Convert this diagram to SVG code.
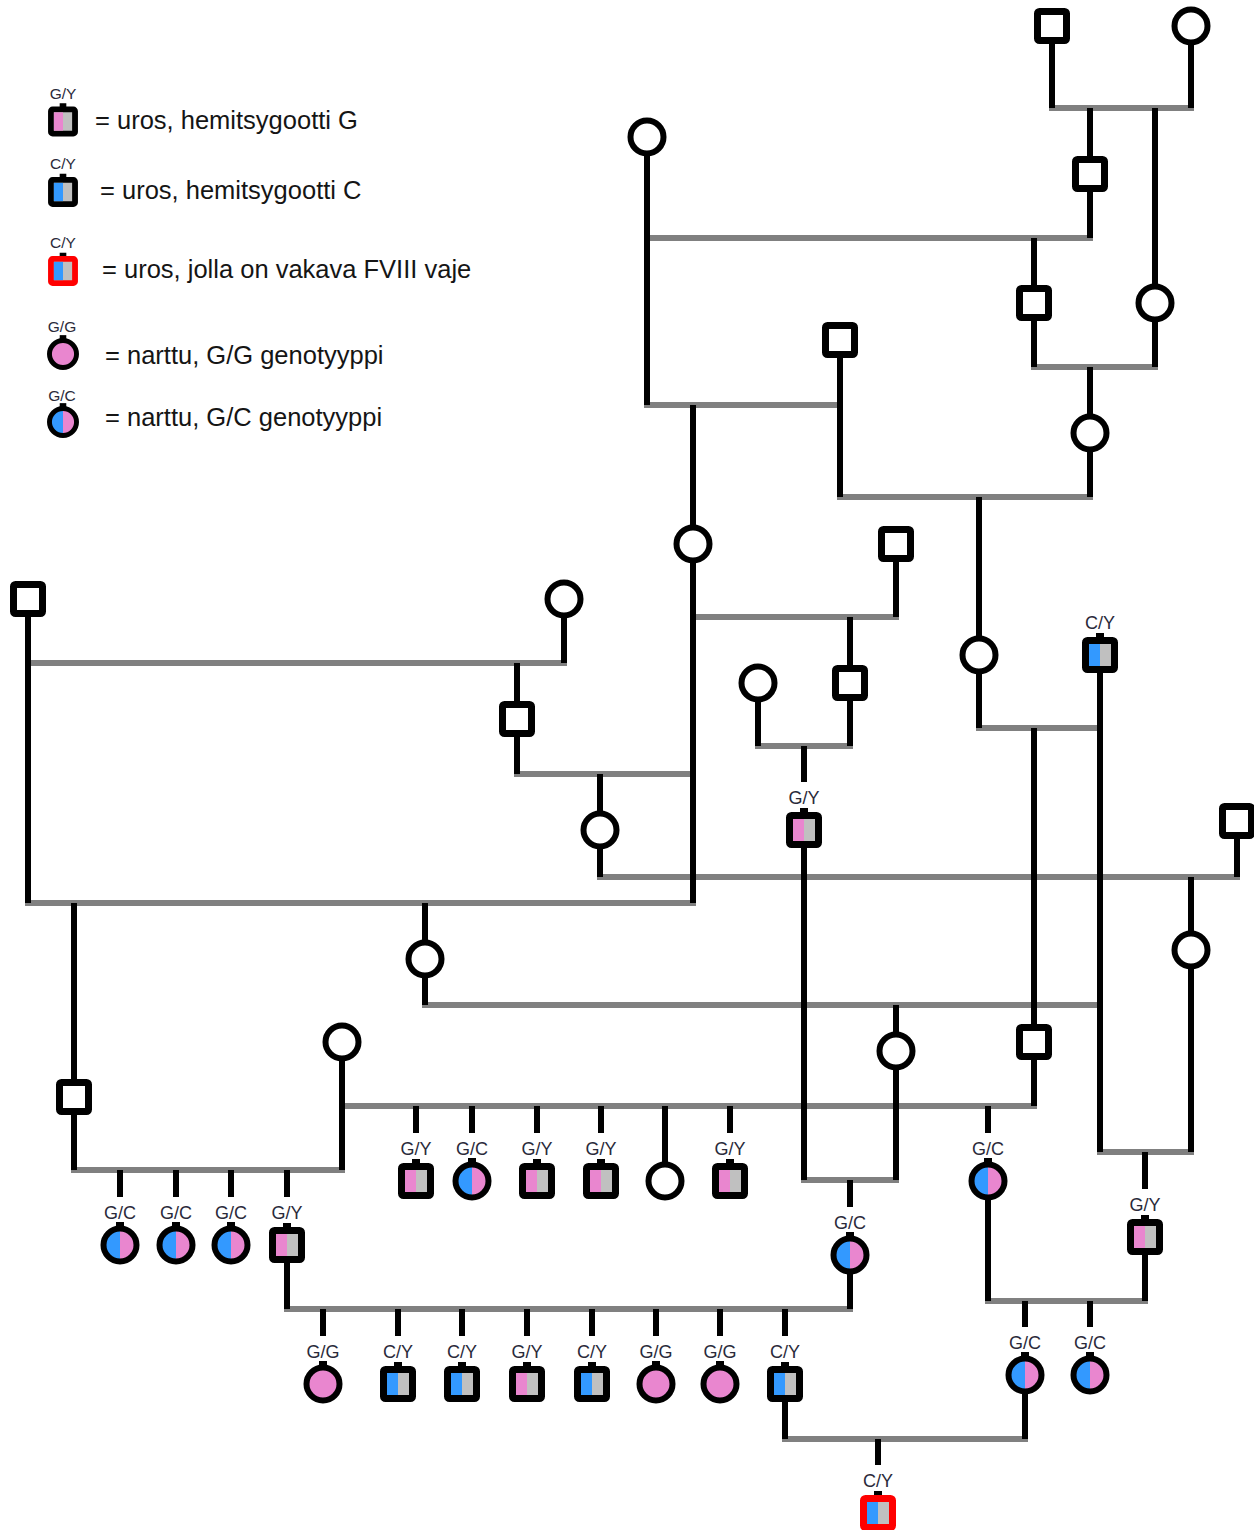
<svg xmlns="http://www.w3.org/2000/svg" width="1254" height="1530" viewBox="0 0 1254 1530">
<style>
.v{stroke:#000;stroke-width:6;fill:none}
.h{stroke:#808080;stroke-width:6;stroke-linecap:square;fill:none}
.lb{font-family:"Liberation Sans",Arial,sans-serif;font-size:18px;fill:#2a2a3a;text-anchor:middle}
.ls{font-family:"Liberation Sans",Arial,sans-serif;font-size:15.5px;fill:#2a2a3a;text-anchor:middle}
.lt{font-family:"Liberation Sans",Arial,sans-serif;font-size:25.5px;fill:#151515}
</style>
<defs>
<g id="M"><rect x="-14.5" y="-14.5" width="29" height="29" rx="2" fill="#fff" stroke="#000" stroke-width="7"/></g>
<g id="F"><circle r="16.5" fill="#fff" stroke="#000" stroke-width="6"/></g>
<g id="MG"><rect x="-4" y="-22" width="8" height="5" fill="#000"/><rect x="-14.5" y="-14.5" width="29" height="29" rx="2" fill="#c0c0c0" stroke="#000" stroke-width="7"/><rect x="-11" y="-11" width="11" height="22" fill="#e986cf"/></g>
<g id="MC"><rect x="-4" y="-22" width="8" height="5" fill="#000"/><rect x="-14.5" y="-14.5" width="29" height="29" rx="2" fill="#c0c0c0" stroke="#000" stroke-width="7"/><rect x="-11" y="-11" width="11" height="22" fill="#3399ff"/></g>
<g id="MA"><rect x="-4" y="-22" width="8" height="5" fill="#000"/><rect x="-14.5" y="-14.5" width="29" height="29" rx="2" fill="#c0c0c0" stroke="#ff0000" stroke-width="7"/><rect x="-11" y="-11" width="11" height="22" fill="#3399ff"/></g>
<g id="FGG"><rect x="-4" y="-23" width="8" height="5" fill="#000"/><circle r="16.5" fill="#e986cf" stroke="#000" stroke-width="6"/></g>
<g id="FGC"><rect x="-4" y="-23" width="8" height="5" fill="#000"/><path d="M0,-16.5 A16.5,16.5 0 0 0 0,16.5 Z" fill="#3399ff"/><path d="M0,-16.5 A16.5,16.5 0 0 1 0,16.5 Z" fill="#e986cf"/><circle r="16.5" fill="none" stroke="#000" stroke-width="6"/></g>
</defs>

<g id="legend">
<g id="leg1"><text class="ls" x="63" y="99">G/Y</text><use href="#MG" transform="translate(63,121.5) scale(0.83)"/><text class="lt" x="95" y="129">= uros, hemitsygootti G</text></g>
<g id="leg2"><text class="ls" x="63" y="169">C/Y</text><use href="#MC" transform="translate(63,192) scale(0.83)"/><text class="lt" x="100" y="199">= uros, hemitsygootti C</text></g>
<g id="leg3"><text class="ls" x="63" y="248">C/Y</text><use href="#MA" transform="translate(63,271) scale(0.83)"/><text class="lt" x="102" y="278">= uros, jolla on vakava FVIII vaje</text></g>
<g id="leg4"><text class="ls" x="62" y="332">G/G</text><use href="#FGG" transform="translate(63,354) scale(0.82)"/><text class="lt" x="105" y="364">= narttu, G/G genotyyppi</text></g>
<g id="leg5"><text class="ls" x="62" y="401">G/C</text><use href="#FGC" transform="translate(63,422) scale(0.82)"/><text class="lt" x="105" y="426">= narttu, G/C genotyyppi</text></g>
</g>

<g id="connectors">
<g class="h-lines">
<line class="h" x1="1052" y1="108" x2="1191" y2="108"/>
<line class="h" x1="647" y1="238" x2="1090" y2="238"/>
<line class="h" x1="1034" y1="367" x2="1155" y2="367"/>
<line class="h" x1="647" y1="405" x2="840" y2="405"/>
<line class="h" x1="840" y1="497" x2="1090" y2="497"/>
<line class="h" x1="693" y1="617" x2="896" y2="617"/>
<line class="h" x1="758" y1="746" x2="850" y2="746"/>
<line class="h" x1="979" y1="728" x2="1100" y2="728"/>
<line class="h" x1="28" y1="663" x2="564" y2="663"/>
<line class="h" x1="517" y1="774" x2="693" y2="774"/>
<line class="h" x1="600" y1="877" x2="1237" y2="877"/>
<line class="h" x1="28" y1="903" x2="693" y2="903"/>
<line class="h" x1="1100" y1="1152" x2="1191" y2="1152"/>
<line class="h" x1="425" y1="1005" x2="1100" y2="1005"/>
<line class="h" x1="804" y1="1180" x2="896" y2="1180"/>
<line class="h" x1="74" y1="1170" x2="342" y2="1170"/>
<line class="h" x1="342" y1="1106" x2="1034" y2="1106"/>
<line class="h" x1="988" y1="1301" x2="1145" y2="1301"/>
<line class="h" x1="287" y1="1309" x2="850" y2="1309"/>
<line class="h" x1="785" y1="1439" x2="1025" y2="1439"/>
</g>
<g class="v-lines">
<line class="v" x1="1052" y1="26" x2="1052" y2="108"/>
<line class="v" x1="1191" y1="26" x2="1191" y2="108"/>
<line class="v" x1="1090" y1="108" x2="1090" y2="238"/>
<line class="v" x1="1155" y1="108" x2="1155" y2="367"/>
<line class="v" x1="647" y1="137" x2="647" y2="405"/>
<line class="v" x1="1034" y1="238" x2="1034" y2="367"/>
<line class="v" x1="1090" y1="367" x2="1090" y2="497"/>
<line class="v" x1="840" y1="340" x2="840" y2="497"/>
<line class="v" x1="693" y1="405" x2="693" y2="903"/>
<line class="v" x1="979" y1="497" x2="979" y2="728"/>
<line class="v" x1="896" y1="544" x2="896" y2="617"/>
<line class="v" x1="850" y1="617" x2="850" y2="746"/>
<line class="v" x1="758" y1="683" x2="758" y2="746"/>
<line class="v" x1="804" y1="746" x2="804" y2="782"/>
<line class="v" x1="804" y1="830" x2="804" y2="1180"/>
<line class="v" x1="1100" y1="655" x2="1100" y2="1152"/>
<line class="v" x1="1034" y1="728" x2="1034" y2="1106"/>
<line class="v" x1="28" y1="599" x2="28" y2="903"/>
<line class="v" x1="564" y1="599" x2="564" y2="663"/>
<line class="v" x1="517" y1="663" x2="517" y2="774"/>
<line class="v" x1="600" y1="774" x2="600" y2="877"/>
<line class="v" x1="1237" y1="821" x2="1237" y2="877"/>
<line class="v" x1="1191" y1="877" x2="1191" y2="1152"/>
<line class="v" x1="1145" y1="1152" x2="1145" y2="1189"/>
<line class="v" x1="1145" y1="1237" x2="1145" y2="1301"/>
<line class="v" x1="425" y1="903" x2="425" y2="1005"/>
<line class="v" x1="896" y1="1005" x2="896" y2="1180"/>
<line class="v" x1="850" y1="1180" x2="850" y2="1207"/>
<line class="v" x1="850" y1="1255" x2="850" y2="1309"/>
<line class="v" x1="74" y1="903" x2="74" y2="1170"/>
<line class="v" x1="342" y1="1042" x2="342" y2="1170"/>
<line class="v" x1="416" y1="1106" x2="416" y2="1133"/>
<line class="v" x1="472" y1="1106" x2="472" y2="1133"/>
<line class="v" x1="537" y1="1106" x2="537" y2="1133"/>
<line class="v" x1="601" y1="1106" x2="601" y2="1133"/>
<line class="v" x1="665" y1="1106" x2="665" y2="1181"/>
<line class="v" x1="730" y1="1106" x2="730" y2="1133"/>
<line class="v" x1="988" y1="1106" x2="988" y2="1133"/>
<line class="v" x1="988" y1="1181" x2="988" y2="1301"/>
<line class="v" x1="1025" y1="1301" x2="1025" y2="1327"/>
<line class="v" x1="1025" y1="1375" x2="1025" y2="1439"/>
<line class="v" x1="1090" y1="1301" x2="1090" y2="1327"/>
<line class="v" x1="120" y1="1170" x2="120" y2="1197"/>
<line class="v" x1="176" y1="1170" x2="176" y2="1197"/>
<line class="v" x1="231" y1="1170" x2="231" y2="1197"/>
<line class="v" x1="287" y1="1170" x2="287" y2="1197"/>
<line class="v" x1="287" y1="1245" x2="287" y2="1309"/>
<line class="v" x1="323" y1="1309" x2="323" y2="1336"/>
<line class="v" x1="398" y1="1309" x2="398" y2="1336"/>
<line class="v" x1="462" y1="1309" x2="462" y2="1336"/>
<line class="v" x1="527" y1="1309" x2="527" y2="1336"/>
<line class="v" x1="592" y1="1309" x2="592" y2="1336"/>
<line class="v" x1="656" y1="1309" x2="656" y2="1336"/>
<line class="v" x1="720" y1="1309" x2="720" y2="1336"/>
<line class="v" x1="785" y1="1309" x2="785" y2="1336"/>
<line class="v" x1="785" y1="1384" x2="785" y2="1439"/>
<line class="v" x1="878" y1="1439" x2="878" y2="1465"/>
</g>
</g>

<g id="nodes">
<g id="m1"><use href="#M" x="1052" y="26"/></g>
<g id="f1"><use href="#F" x="1191" y="26"/></g>
<g id="m2"><use href="#M" x="1090" y="174"/></g>
<g id="f2"><use href="#F" x="647" y="137"/></g>
<g id="m3"><use href="#M" x="1034" y="303"/></g>
<g id="f3"><use href="#F" x="1155" y="303"/></g>
<g id="f4"><use href="#F" x="1090" y="433"/></g>
<g id="m4"><use href="#M" x="840" y="340"/></g>
<g id="f5"><use href="#F" x="693" y="544"/></g>
<g id="m5"><use href="#M" x="896" y="544"/></g>
<g id="f6"><use href="#F" x="979" y="655"/></g>
<g id="m6"><use href="#M" x="850" y="683"/></g>
<g id="f7"><use href="#F" x="758" y="683"/></g>
<g id="m7"><text class="lb" x="804" y="804">G/Y</text><use href="#MG" x="804" y="830"/></g>
<g id="m8"><text class="lb" x="1100" y="629">C/Y</text><use href="#MC" x="1100" y="655"/></g>
<g id="m9"><use href="#M" x="1034" y="1042"/></g>
<g id="m10"><use href="#M" x="28" y="599"/></g>
<g id="f8"><use href="#F" x="564" y="599"/></g>
<g id="m11"><use href="#M" x="517" y="719"/></g>
<g id="f9"><use href="#F" x="600" y="830"/></g>
<g id="m12"><use href="#M" x="1237" y="821"/></g>
<g id="f10"><use href="#F" x="1191" y="950"/></g>
<g id="m13"><text class="lb" x="1145" y="1211">G/Y</text><use href="#MG" x="1145" y="1237"/></g>
<g id="f11"><use href="#F" x="425" y="959"/></g>
<g id="f12"><use href="#F" x="896" y="1051"/></g>
<g id="f13"><text class="lb" x="850" y="1229">G/C</text><use href="#FGC" x="850" y="1255"/></g>
<g id="m14"><use href="#M" x="74" y="1097"/></g>
<g id="f14"><use href="#F" x="342" y="1042"/></g>
<g id="c1"><text class="lb" x="416" y="1155">G/Y</text><use href="#MG" x="416" y="1181"/></g>
<g id="c2"><text class="lb" x="472" y="1155">G/C</text><use href="#FGC" x="472" y="1181"/></g>
<g id="c3"><text class="lb" x="537" y="1155">G/Y</text><use href="#MG" x="537" y="1181"/></g>
<g id="c4"><text class="lb" x="601" y="1155">G/Y</text><use href="#MG" x="601" y="1181"/></g>
<g id="c5"><use href="#F" x="665" y="1181"/></g>
<g id="c6"><text class="lb" x="730" y="1155">G/Y</text><use href="#MG" x="730" y="1181"/></g>
<g id="c7"><text class="lb" x="988" y="1155">G/C</text><use href="#FGC" x="988" y="1181"/></g>
<g id="d1"><text class="lb" x="120" y="1219">G/C</text><use href="#FGC" x="120" y="1245"/></g>
<g id="d2"><text class="lb" x="176" y="1219">G/C</text><use href="#FGC" x="176" y="1245"/></g>
<g id="d3"><text class="lb" x="231" y="1219">G/C</text><use href="#FGC" x="231" y="1245"/></g>
<g id="d4"><text class="lb" x="287" y="1219">G/Y</text><use href="#MG" x="287" y="1245"/></g>
<g id="e1"><text class="lb" x="1025" y="1349">G/C</text><use href="#FGC" x="1025" y="1375"/></g>
<g id="e2"><text class="lb" x="1090" y="1349">G/C</text><use href="#FGC" x="1090" y="1375"/></g>
<g id="g1"><text class="lb" x="323" y="1358">G/G</text><use href="#FGG" x="323" y="1384"/></g>
<g id="g2"><text class="lb" x="398" y="1358">C/Y</text><use href="#MC" x="398" y="1384"/></g>
<g id="g3"><text class="lb" x="462" y="1358">C/Y</text><use href="#MC" x="462" y="1384"/></g>
<g id="g4"><text class="lb" x="527" y="1358">G/Y</text><use href="#MG" x="527" y="1384"/></g>
<g id="g5"><text class="lb" x="592" y="1358">C/Y</text><use href="#MC" x="592" y="1384"/></g>
<g id="g6"><text class="lb" x="656" y="1358">G/G</text><use href="#FGG" x="656" y="1384"/></g>
<g id="g7"><text class="lb" x="720" y="1358">G/G</text><use href="#FGG" x="720" y="1384"/></g>
<g id="g8"><text class="lb" x="785" y="1358">C/Y</text><use href="#MC" x="785" y="1384"/></g>
<g id="affected"><text class="lb" x="878" y="1487">C/Y</text><use href="#MA" x="878" y="1513"/></g>
</g>
</svg>
